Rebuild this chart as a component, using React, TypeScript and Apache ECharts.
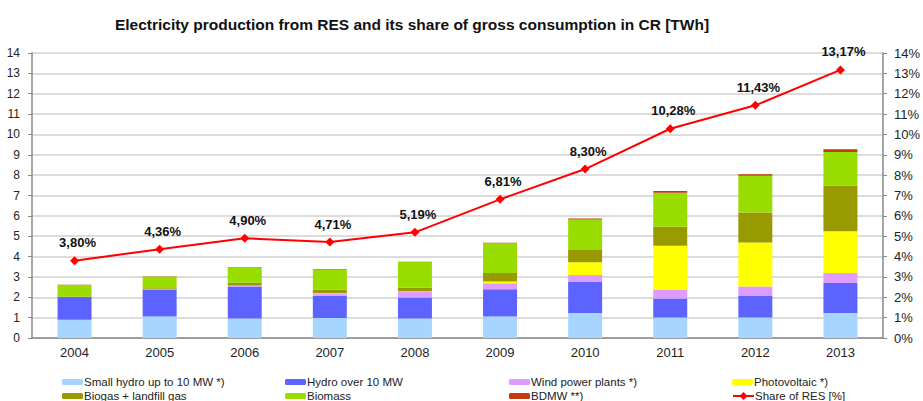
import React, { useEffect, useRef } from "react";
import * as echarts from "echarts";

const years = ["2004", "2005", "2006", "2007", "2008", "2009", "2010", "2011", "2012", "2013"];
const smallHydro = [0.9, 1.06, 0.96, 0.98, 0.96, 1.06, 1.23, 1.01, 1.01, 1.23];
const hydro = [1.11, 1.31, 1.57, 1.1, 1.03, 1.34, 1.54, 0.93, 1.08, 1.47];
const wind = [0.01, 0.02, 0.05, 0.12, 0.3, 0.29, 0.33, 0.42, 0.44, 0.49];
const photovoltaic = [0, 0, 0, 0.01, 0.01, 0.09, 0.62, 2.17, 2.16, 2.06];
const biogas = [0.02, 0.06, 0.13, 0.17, 0.17, 0.41, 0.6, 0.93, 1.47, 2.24];
const biomass = [0.56, 0.57, 0.76, 0.99, 1.26, 1.47, 1.5, 1.68, 1.81, 1.65];
const bdmw = [0.01, 0.01, 0.02, 0.02, 0.01, 0.02, 0.05, 0.08, 0.08, 0.13];
const shareRES = [3.8, 4.36, 4.9, 4.71, 5.19, 6.81, 8.3, 10.28, 11.43, 13.17];

const barSeries = [
  { name: "Small hydro up to 10 MW *)", data: smallHydro, color: "#A6D6FF" },
  { name: "Hydro over 10 MW", data: hydro, color: "#5C63FF" },
  { name: "Wind power plants *)", data: wind, color: "#DE9CFF" },
  { name: "Photovoltaic *)", data: photovoltaic, color: "#FFFF00" },
  { name: "Biogas + landfill gas", data: biogas, color: "#999900" },
  { name: "Biomass", data: biomass, color: "#99DD00" },
  { name: "BDMW **)", data: bdmw, color: "#C23B0E" },
];
const lineName = "Share of RES [%]";

const legendPos = [
  [62, 376], [285, 376], [509, 376], [732, 376],
  [62, 390], [285, 390], [509, 390], [732, 390],
];
const legendNames = [
  barSeries[0].name, barSeries[1].name, barSeries[2].name, barSeries[3].name,
  barSeries[4].name, barSeries[5].name, barSeries[6].name, lineName,
];

export default function App() {
  const ref = useRef<HTMLDivElement>(null);
  useEffect(() => {
    if (!ref.current) return;
    const chart = echarts.init(ref.current, null, { renderer: "svg" });
    const font = "Liberation Sans";
    chart.setOption({
      animation: false,
      backgroundColor: "#ffffff",
      textStyle: { fontFamily: font },
      title: {
        text: "Electricity production from RES and its share of gross consumption in CR [TWh]",
        left: 407,
        textAlign: "center",
        top: 11,
        textStyle: { fontFamily: font, fontSize: 15.5, fontWeight: "bold", color: "#111" },
      },
      legend: legendNames.map((n, i) => ({
        data: [n],
        left: legendPos[i][0],
        top: legendPos[i][1],
        itemWidth: 21,
        itemHeight: i === 7 ? 10 : 6,
        itemGap: 0,
        padding: 0,
        selectedMode: false,
        textStyle: { fontFamily: font, fontSize: 11.5, color: "#222", padding: [0, 0, 0, -4] },
      })),
      grid: { left: 32, right: 36, top: 53, bottom: 63 },
      xAxis: {
        type: "category",
        data: years,
        axisLine: { lineStyle: { color: "#888", width: 1.5 } },
        axisTick: { show: false },
        axisLabel: { fontSize: 13, color: "#222", margin: 8 },
      },
      yAxis: [
        {
          type: "value",
          min: 0,
          max: 14,
          interval: 1,
          axisLine: { show: true, lineStyle: { color: "#888", width: 1.5 } },
          axisTick: { show: true, length: 4, lineStyle: { color: "#888" } },
          axisLabel: { fontSize: 12, color: "#222", margin: 12 },
          splitLine: { lineStyle: { color: "#D0D0D0", width: 1.5 } },
        },
        {
          type: "value",
          min: 0,
          max: 14,
          interval: 1,
          position: "right",
          axisLine: { show: true, lineStyle: { color: "#888", width: 1.5 } },
          axisTick: { show: true, length: 4, lineStyle: { color: "#888" } },
          axisLabel: { fontSize: 13, color: "#222", margin: 11, formatter: "{value}%" },
          splitLine: { show: false },
        },
      ],
      series: [
        ...barSeries.map((s) => ({
          name: s.name,
          type: "bar",
          stack: "res",
          data: s.data,
          barWidth: 34,
          itemStyle: { color: s.color },
        })),
        {
          name: lineName,
          type: "line",
          yAxisIndex: 1,
          data: shareRES,
          color: "#FF0000",
          lineStyle: { color: "#FF0000", width: 2 },
          symbol: "diamond",
          symbolSize: 9,
          itemStyle: { color: "#FF0000" },
          label: {
            show: true,
            position: "top",
            distance: 7,
            offset: [3, 0],
            fontSize: 13,
            fontWeight: "bold",
            color: "#111",
            formatter: (p: any) => p.value.toFixed(2).replace(".", ",") + "%",
          },
          z: 10,
        },
      ],
    });
    return () => chart.dispose();
  }, []);
  return <div ref={ref} style={{ width: 923, height: 401, position: "absolute", left: 0, top: 0 }} />;
}
